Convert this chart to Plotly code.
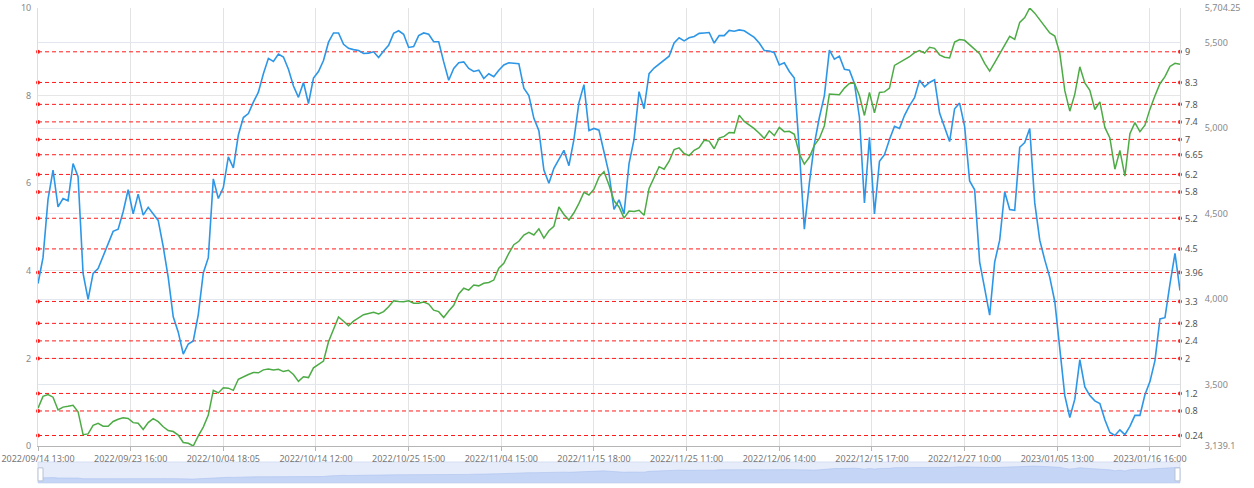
import plotly.graph_objects as go

# ---------------- data ----------------
tick_labels = ["2022/09/14 13:00", "2022/09/23 16:00", "2022/10/04 18:05", "2022/10/14 12:00",
               "2022/10/25 15:00", "2022/11/04 15:00", "2022/11/15 18:00", "2022/11/25 11:00",
               "2022/12/06 14:00", "2022/12/15 17:00", "2022/12/27 10:00", "2023/01/05 13:00",
               "2023/01/16 16:00"]
samples_per_label = 18.5

blue_values = [
    3.71, 4.3, 5.63, 6.3, 5.46, 5.65, 5.6, 6.45, 6.15, 3.94,
    3.35, 3.94, 4.05, 4.33, 4.65, 4.9, 4.95, 5.35, 5.85, 5.3,
    5.75, 5.27, 5.45, 5.3, 5.15, 4.55, 3.85, 2.95, 2.6, 2.1,
    2.33, 2.4, 3.0, 3.95, 4.3, 6.1, 5.65, 5.9, 6.6, 6.35,
    7.1, 7.5, 7.59, 7.85, 8.08, 8.5, 8.85, 8.78, 8.95, 8.88,
    8.6, 8.22, 7.96, 8.3, 7.82, 8.4, 8.55, 8.8, 9.22, 9.43,
    9.43, 9.17, 9.08, 9.05, 9.03, 8.96, 8.97, 9.0, 8.87, 9.02,
    9.15, 9.42, 9.48, 9.4, 9.1, 9.12, 9.37, 9.43, 9.4, 9.23,
    9.23, 8.77, 8.35, 8.62, 8.75, 8.77, 8.62, 8.55, 8.58, 8.39,
    8.5, 8.43, 8.58, 8.7, 8.75, 8.74, 8.73, 8.17, 8.0, 7.48,
    7.2, 6.3, 6.0, 6.34, 6.55, 6.75, 6.4, 7.0, 7.84, 8.25,
    7.2, 7.25, 7.21, 6.72, 6.22, 5.4, 5.62, 5.3, 6.45, 7.0,
    8.09, 7.7, 8.5, 8.63, 8.72, 8.8, 8.9, 9.2, 9.32, 9.25,
    9.32, 9.35, 9.42, 9.43, 9.44, 9.2, 9.37, 9.37, 9.49, 9.47,
    9.5, 9.48, 9.41, 9.33, 9.2, 9.03, 9.02, 8.98, 8.7, 8.75,
    8.55, 8.4, 6.75, 4.95, 6.0, 6.9, 7.5, 8.0, 9.04, 8.83,
    8.9, 8.6, 8.58, 8.28, 7.5, 5.55, 7.05, 5.3, 6.5, 6.65,
    7.0, 7.3, 7.25, 7.55, 7.77, 7.95, 8.35, 8.2, 8.3, 8.36,
    7.6, 7.25, 6.95, 7.7, 7.83, 7.3, 6.05, 5.85, 4.2, 3.6,
    2.99, 4.2, 4.7, 5.8, 5.4, 5.38, 6.82, 6.93, 7.25, 5.55,
    4.7, 4.25, 3.85, 3.3, 2.25, 1.15, 0.65, 1.07, 1.97, 1.35,
    1.15, 1.03, 0.97, 0.6, 0.31, 0.24, 0.37, 0.26, 0.45, 0.7,
    0.7, 1.17, 1.47, 1.95, 2.9, 2.93, 3.7, 4.4, 3.55,
]

green_values = [
    3360, 3430, 3440, 3425, 3350, 3367, 3372, 3378, 3340, 3205,
    3210, 3260, 3272, 3255, 3255, 3283, 3296, 3304, 3300, 3276,
    3272, 3236, 3276, 3299, 3282, 3252, 3230, 3224, 3203, 3160,
    3155, 3139.1, 3198, 3250, 3320, 3465, 3450, 3480, 3478, 3465,
    3530, 3545, 3558, 3570, 3568, 3585, 3590, 3585, 3588, 3575,
    3583, 3558, 3518, 3545, 3540, 3597, 3617, 3637, 3750, 3827,
    3895, 3870, 3843, 3870, 3890, 3908, 3915, 3922, 3912, 3926,
    3955, 3990, 3985, 3984, 3990, 3975, 3975, 3982, 3970, 3935,
    3926, 3892, 3930, 3963, 4030, 4063, 4052, 4082, 4077, 4092,
    4097, 4111, 4180, 4209, 4268, 4318, 4338, 4375, 4391, 4375,
    4411, 4357, 4400, 4426, 4539, 4495, 4463, 4505, 4560, 4625,
    4609, 4643, 4714, 4746, 4668, 4575, 4539, 4474, 4515, 4513,
    4520, 4490, 4648, 4708, 4775, 4760, 4807, 4875, 4885, 4852,
    4840, 4871, 4886, 4930, 4925, 4880, 4942, 4952, 4975, 4973,
    5077, 5040, 5020, 4998, 4971, 4940, 4985, 4957, 5005, 4980,
    4982, 4965, 4850, 4790, 4830, 4900, 4940, 5015, 5200, 5196,
    5196, 5235, 5262, 5265, 5190, 5075, 5210, 5090, 5210, 5213,
    5235, 5368, 5385, 5398, 5419, 5443, 5455, 5440, 5474, 5468,
    5430, 5416, 5412, 5505, 5520, 5515, 5488, 5465, 5437, 5380,
    5335, 5385, 5435, 5483, 5538, 5520, 5620, 5648, 5704.25, 5674,
    5634, 5597, 5558, 5540, 5440, 5220, 5100, 5200, 5360, 5265,
    5222, 5110, 5155, 5005, 4943, 4760, 4870, 4720, 4968, 5033,
    4980, 5018, 5112, 5190, 5261, 5302, 5362, 5380, 5375,
]

level_values = [9, 8.3, 7.8, 7.4, 7, 6.65, 6.2, 5.8, 5.2, 4.5, 3.96, 3.3, 2.8, 2.4, 2, 1.2, 0.8, 0.24]
level_labels = ["9", "8.3", "7.8", "7.4", "7", "6.65", "6.2", "5.8", "5.2", "4.5", "3.96",
                "3.3", "2.8", "2.4", "2", "1.2", "0.8", "0.24"]

left_ticks = [0, 2, 4, 6, 8, 10]
right_min, right_max = 3139.1, 5704.25
right_ticks = [3139.1, 3500, 4000, 4500, 5000, 5500, 5704.25]
right_tick_text = ["3,139.1", "3,500", "4,000", "4,500", "5,000", "5,500", "5,704.25"]

# ---------------- figure ----------------
n = len(blue_values)
xs = list(range(n))
x_end = n - 1
tick_pos = [k * samples_per_label for k in range(len(tick_labels))]

BLUE = "#2d96e6"
GREEN = "#4dab45"
RED = "#ff1a1a"
FONT = "Noto Sans, Liberation Sans, sans-serif"

fig = go.Figure()

# reference lines (left axis scale)
for lv in level_values:
    fig.add_trace(go.Scatter(
        x=[0, x_end], y=[lv, lv], mode="lines+markers",
        line=dict(color=RED, width=1, dash="4px,3px"),
        marker=dict(color=RED, size=4, symbol="circle", line=dict(width=0)),
        cliponaxis=False,
        xaxis="x", yaxis="y", hoverinfo="skip", showlegend=False))

fig.add_trace(go.Scatter(x=xs, y=green_values, mode="lines",
                         line=dict(color=GREEN, width=1.5),
                         xaxis="x", yaxis="y2", showlegend=False))
fig.add_trace(go.Scatter(x=xs, y=blue_values, mode="lines",
                         line=dict(color=BLUE, width=1.6),
                         xaxis="x", yaxis="y", showlegend=False))

# data-zoom shadow
span = right_max - right_min
fig.add_trace(go.Scatter(x=xs, y=green_values, mode="lines", fill="tozeroy",
                         fillcolor="rgba(170,195,242,0.55)",
                         line=dict(color="rgba(160,185,235,0.8)", width=0.6),
                         xaxis="x2", yaxis="y3", hoverinfo="skip", showlegend=False))

annotations = []
for lv, lab in zip(level_values, level_labels):
    annotations.append(dict(x=1, xref="paper", y=lv, yref="y", text=lab,
                            xanchor="left", yanchor="middle", xshift=3, showarrow=False,
                            font=dict(family=FONT, size=9, color="#555")))

shapes = [
    dict(type="rect", xref="x2 domain", yref="y3 domain", x0=0, x1=1, y0=0, y1=1,
         fillcolor="#e6ecfa", line=dict(color="#d6dff2", width=1), layer="below"),
    dict(type="rect", xref="x2 domain", yref="y3 domain", x0=0.0, x1=0.0044, y0=0.1, y1=0.72,
         fillcolor="white", line=dict(color="#b8c2d6", width=1)),
    dict(type="rect", xref="x2 domain", yref="y3 domain", x0=0.9956, x1=1.0, y0=0.1, y1=0.72,
         fillcolor="white", line=dict(color="#b8c2d6", width=1)),
]

fig.update_layout(
    width=1254, height=488,
    margin=dict(l=38, r=74, t=8, b=4, autoexpand=False),
    paper_bgcolor="white", plot_bgcolor="white",
    showlegend=False, hovermode=False,
    font=dict(family=FONT, size=9, color="#777"),
    annotations=annotations, shapes=shapes,
    xaxis=dict(domain=[0, 1], anchor="y", range=[0, x_end], automargin=False,
               tickmode="array", tickvals=tick_pos, ticktext=tick_labels,
               showgrid=True, gridcolor="#e3e3e3", gridwidth=1,
               showline=True, linecolor="#b5b5b5", ticks="outside", ticklen=4,
               tickcolor="#b5b5b5", zeroline=False, ticklabelstandoff=0,
               tickfont=dict(family=FONT, size=9, color="#777")),
    yaxis=dict(domain=[0.0798, 1], anchor="x", range=[0, 10], automargin=False,
               tickmode="array", tickvals=left_ticks,
               showgrid=True, gridcolor="#e6e6e6", zeroline=False,
               showline=True, linecolor="#dddddd", ticks="",
               ticklabelstandoff=4,
               tickfont=dict(family=FONT, size=9, color="#888")),
    yaxis2=dict(overlaying="y", side="right", anchor="x", automargin=False,
                range=[right_min, right_max],
                tickmode="array", tickvals=right_ticks, ticktext=right_tick_text,
                showgrid=True, gridcolor="#e2e6ee", zeroline=False,
                showline=True, linecolor="#dddddd", ticks="",
                ticklabelstandoff=22,
                tickfont=dict(family=FONT, size=9, color="#888")),
    xaxis2=dict(domain=[0, 1], anchor="y3", range=[0, x_end], visible=False),
    yaxis3=dict(domain=[0.0021, 0.0462], anchor="x2",
                range=[right_min - 0.3 * span, right_max + 0.3 * span], visible=False),
)

fig.write_html("out.html", config={"displayModeBar": False},
               post_script="document.body.style.margin='0';document.body.style.overflow='hidden';")
